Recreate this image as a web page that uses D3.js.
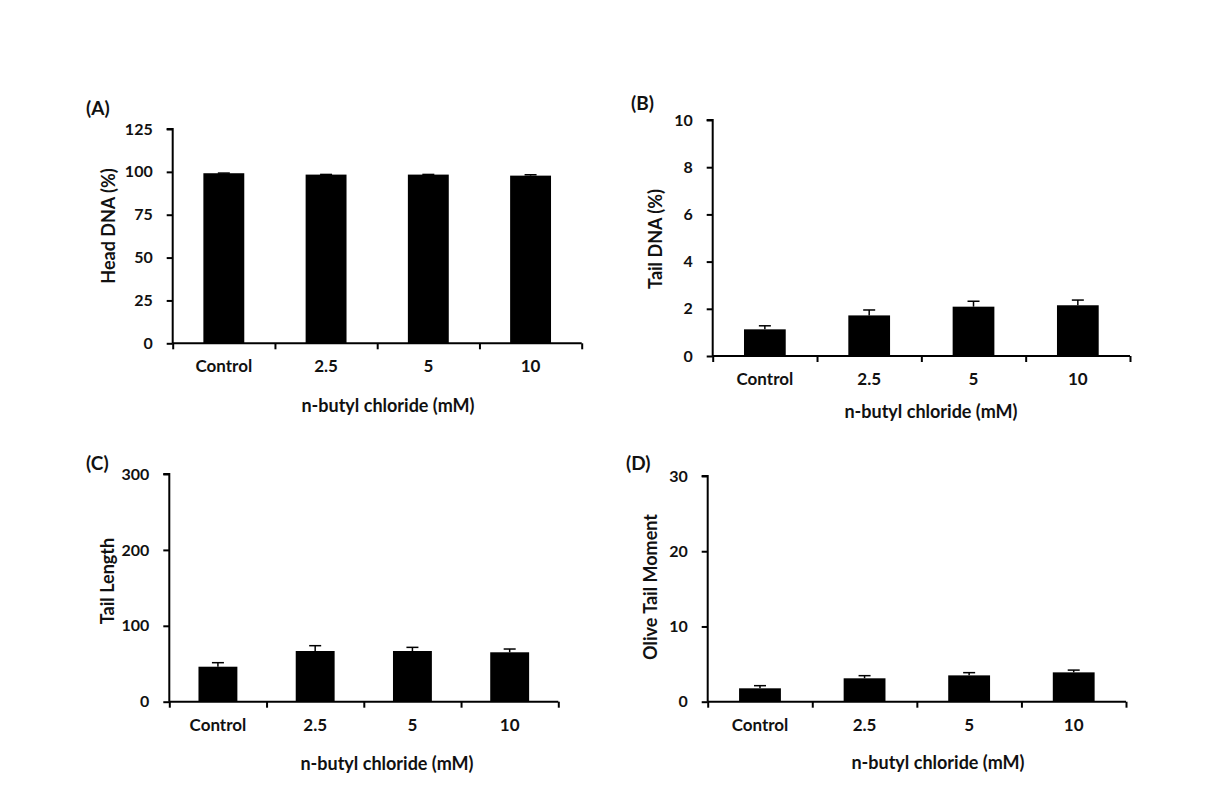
<!DOCTYPE html>
<html><head><meta charset="utf-8">
<script src="https://cdn.jsdelivr.net/npm/d3@7/dist/d3.min.js"></script>
<style>
html,body{margin:0;padding:0;background:#fff;}
svg text{font-family:Lato,"Open Sans",sans-serif;font-weight:bold;fill:#111;}
</style></head>
<body><svg id="c" width="1231" height="803"></svg>
<script>
const categories = ["Control", "2.5", "5", "10"];
const headDNA = [99.2, 98.4, 98.4, 97.8];
const headDNAErr = [0.1, 0.1, 0.1, 0.5];
const tailDNA = [1.13, 1.72, 2.09, 2.15];
const tailDNAErr = [0.15, 0.23, 0.23, 0.22];
const tailLength = [46.1, 66.8, 66.8, 65.1];
const tailLengthErr = [5.3, 7.0, 4.8, 4.3];
const oliveTailMoment = [1.78, 3.11, 3.50, 3.90];
const oliveTailMomentErr = [0.35, 0.35, 0.36, 0.30];
const ticksA = [0, 25, 50, 75, 100, 125];
const ticksB = [0, 2, 4, 6, 8, 10];
const ticksC = [0, 100, 200, 300];
const ticksD = [0, 10, 20, 30];
const xTitle = "n-butyl chloride (mM)";

const svg = d3.select("#c");

const panels = [
  {label:"(A)", title:"Head DNA (%)", vals:headDNA, errs:headDNAErr, ticks:ticksA,
   x0:172.7, x1:581.7, y0:343.3, y1:129, labX:86, labY:115, ytx:108, yty:226, xtx:388, xty:405},
  {label:"(B)", title:"Tail DNA (%)", vals:tailDNA, errs:tailDNAErr, ticks:ticksB,
   x0:712.7, x1:1130, y0:356, y1:120, labX:631, labY:110, ytx:655, yty:239, xtx:931, xty:411},
  {label:"(C)", title:"Tail Length", vals:tailLength, errs:tailLengthErr, ticks:ticksC,
   x0:169.3, x1:558.3, y0:701.7, y1:474, labX:86, labY:470, ytx:107, yty:581, xtx:387, xty:763},
  {label:"(D)", title:"Olive Tail Moment", vals:oliveTailMoment, errs:oliveTailMomentErr, ticks:ticksD,
   x0:707.7, x1:1126, y0:701.7, y1:476, labX:626, labY:470, ytx:650, yty:587, xtx:938, xty:762}
];

panels.forEach(p => {
  const g = svg.append("g");
  const yMax = p.ticks[p.ticks.length - 1];
  const y = d3.scaleLinear().domain([0, yMax]).range([p.y0, p.y1]);
  const x = d3.scaleBand().domain(categories).range([p.x0, p.x1]).padding(0);
  const xb = d3.scaleLinear().domain([0, categories.length]).range([p.x0, p.x1]);
  const bw = x.bandwidth() * 0.4;

  g.selectAll("rect.bar").data(categories).join("rect")
    .attr("x", d => x(d) + x.bandwidth()/2 - bw/2)
    .attr("width", bw)
    .attr("y", (d,i) => y(p.vals[i]))
    .attr("height", (d,i) => p.y0 - y(p.vals[i]))
    .attr("fill", "#000");

  const eb = g.selectAll("g.err").data(categories).join("g");
  eb.append("line")
    .attr("x1", d => x(d) + x.bandwidth()/2).attr("x2", d => x(d) + x.bandwidth()/2)
    .attr("y1", (d,i) => y(p.vals[i])).attr("y2", (d,i) => y(p.vals[i] + p.errs[i]))
    .attr("stroke", "#000").attr("stroke-width", 1.5);
  eb.append("line")
    .attr("x1", d => x(d) + x.bandwidth()/2 - 6).attr("x2", d => x(d) + x.bandwidth()/2 + 6)
    .attr("y1", (d,i) => y(p.vals[i] + p.errs[i])).attr("y2", (d,i) => y(p.vals[i] + p.errs[i]))
    .attr("stroke", "#000").attr("stroke-width", 1.5);

  const ya = g.append("g").attr("transform", `translate(${p.x0},0)`)
    .call(d3.axisLeft(y).tickValues(p.ticks).tickSize(6).tickPadding(14).tickFormat(d3.format("d")));
  ya.selectAll("path, line").attr("stroke", "#000").attr("stroke-width", 2);
  ya.select(".domain").attr("d", `M-6,${p.y1}H0V${p.y0}`);
  ya.selectAll("text").style("font-size", "16px").style("font-family", "Lato, sans-serif").style("font-weight", "bold").attr("fill", "#111");

  const xa = g.append("g").attr("transform", `translate(0,${p.y0})`)
    .call(d3.axisBottom(xb).tickValues(d3.range(categories.length + 1)).tickSize(6).tickFormat(""));
  xa.selectAll("path, line").attr("stroke", "#000").attr("stroke-width", 2);
  xa.select(".domain").attr("d", `M${p.x0},0H${p.x1}`);

  const xl = g.append("g").attr("transform", `translate(0,${p.y0})`)
    .call(d3.axisBottom(x).tickSize(0).tickPadding(17));
  xl.select(".domain").remove();
  xl.selectAll("text").style("font-size", "17px").style("font-family", "Lato, sans-serif").style("font-weight", "bold").attr("fill", "#111");

  g.append("text").attr("transform", `translate(${p.ytx},${p.yty}) rotate(-90)`)
    .attr("text-anchor", "middle").attr("dominant-baseline", "central")
    .style("font-size", "18px").text(p.title);
  g.append("text").attr("x", p.xtx).attr("y", p.xty)
    .attr("text-anchor", "middle").attr("dominant-baseline", "central")
    .style("font-size", "18px").text(xTitle);
  g.append("text").attr("x", p.labX).attr("y", p.labY)
    .style("font-size", "19px").text(p.label);
});
</script></body></html>
